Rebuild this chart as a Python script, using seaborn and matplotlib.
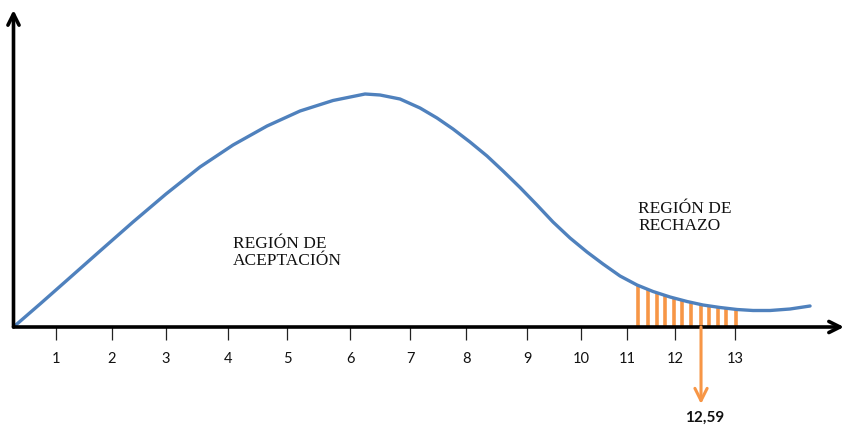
import matplotlib
matplotlib.use("Agg")
import matplotlib.pyplot as plt
import seaborn as sns
import pandas as pd

# ---- data ----
curve_x = [0.249, 0.718, 1.189, 1.778, 2.361, 2.944, 3.545, 4.129, 4.730, 5.313,
           5.896, 6.462, 6.727, 7.080, 7.434, 7.734, 8.017, 8.317, 8.618, 8.901,
           9.201, 9.501, 9.784, 10.085, 10.385, 10.668, 10.969, 11.269, 11.552,
           11.852, 12.153, 12.435, 12.736, 13.037, 13.319, 13.620, 13.973, 14.327]
curve_y = [0, 23, 46.5, 76, 105, 133, 160, 182, 201, 216,
           226.5, 233, 232, 228, 219, 209, 198, 185, 171, 156,
           139.5, 122, 105, 89, 75, 63, 51, 42, 35.5,
           30, 25.5, 22, 19.5, 17.5, 16.5, 16.5, 18, 21]

reject_x = [11.29, 11.47, 11.62, 11.76, 11.92, 12.07, 12.22, 12.40, 12.54, 12.70, 12.85, 13.01]
reject_h = [42, 38, 34, 31, 29, 26, 24, 22, 21, 20, 19, 17]

tick_labels = ["1", "2", "3", "4", "5", "6", "7", "8", "9", "10", "11", "12", "13"]
tick_pos = [1.000, 1.990, 2.944, 4.040, 5.083, 6.197, 7.257, 8.247, 9.325,
            10.279, 11.092, 11.941, 13.001]

critical_label = "12,59"
critical_x = 12.40

label_accept = "REGIÓN DE\nACEPTACIÓN"
label_reject = "REGIÓN DE\nRECHAZO"

# ---- styling ----
sns.set_theme(style="white")
plt.rcParams["font.family"] = ["Lato", "DejaVu Sans"]

BLUE = "#4F81BD"
ORANGE = "#F79646"

fig = plt.figure(figsize=(8.44, 4.26), dpi=100)
ax = fig.add_axes([13.5 / 844, 99 / 426, 830.5 / 844, 317 / 426])
ax.set_xlim(0.249, 14.927)
ax.set_ylim(0, 317)
for s in ax.spines.values():
    s.set_visible(False)

df = pd.DataFrame({"x": curve_x, "y": curve_y})
sns.lineplot(data=df, x="x", y="y", ax=ax, color=BLUE, linewidth=2.4, sort=True)
ax.lines[-1].set_solid_joinstyle("round")

ax.vlines(reject_x, 0, reject_h, color=ORANGE, linewidth=2.6, zorder=1)

# axes with arrow heads
ax.annotate("", xy=(1.0, 0), xytext=(0, 0), xycoords="axes fraction",
            arrowprops=dict(arrowstyle="->", lw=2.6, color="black",
                            shrinkA=0, shrinkB=0, mutation_scale=20),
            annotation_clip=False, zorder=3)
ax.annotate("", xy=(0, 1.0), xytext=(0, 0), xycoords="axes fraction",
            arrowprops=dict(arrowstyle="->", lw=2.6, color="black",
                            shrinkA=0, shrinkB=0, mutation_scale=20),
            annotation_clip=False, zorder=3)

ax.set_xticks(tick_pos)
ax.set_xticklabels(tick_labels)
ax.set_yticks([])
ax.tick_params(axis="x", direction="out", length=9, width=0.9, color="#222222",
               bottom=True, pad=9, labelsize=10.5, labelcolor="#111111")
ax.set_xlabel("")
ax.set_ylabel("")

# critical value arrow
ax.annotate("", xy=(critical_x, -77), xytext=(critical_x, 0), xycoords="data",
            arrowprops=dict(arrowstyle="->", lw=2.2, color=ORANGE,
                            shrinkA=0, shrinkB=0, mutation_scale=22),
            annotation_clip=False)
ax.text(critical_x + 0.06, -91, critical_label, ha="center", va="center",
        fontsize=11, fontweight="bold", color="#111111", clip_on=False)

ax.text(4.13, 91, label_accept, ha="left", va="top", fontsize=12.5,
        family="Liberation Serif", color="#111111", linespacing=1.12)
ax.text(11.29, 126, label_reject, ha="left", va="top", fontsize=12.5,
        family="Liberation Serif", color="#111111", linespacing=1.12)

fig.savefig("out.png", dpi=100)
